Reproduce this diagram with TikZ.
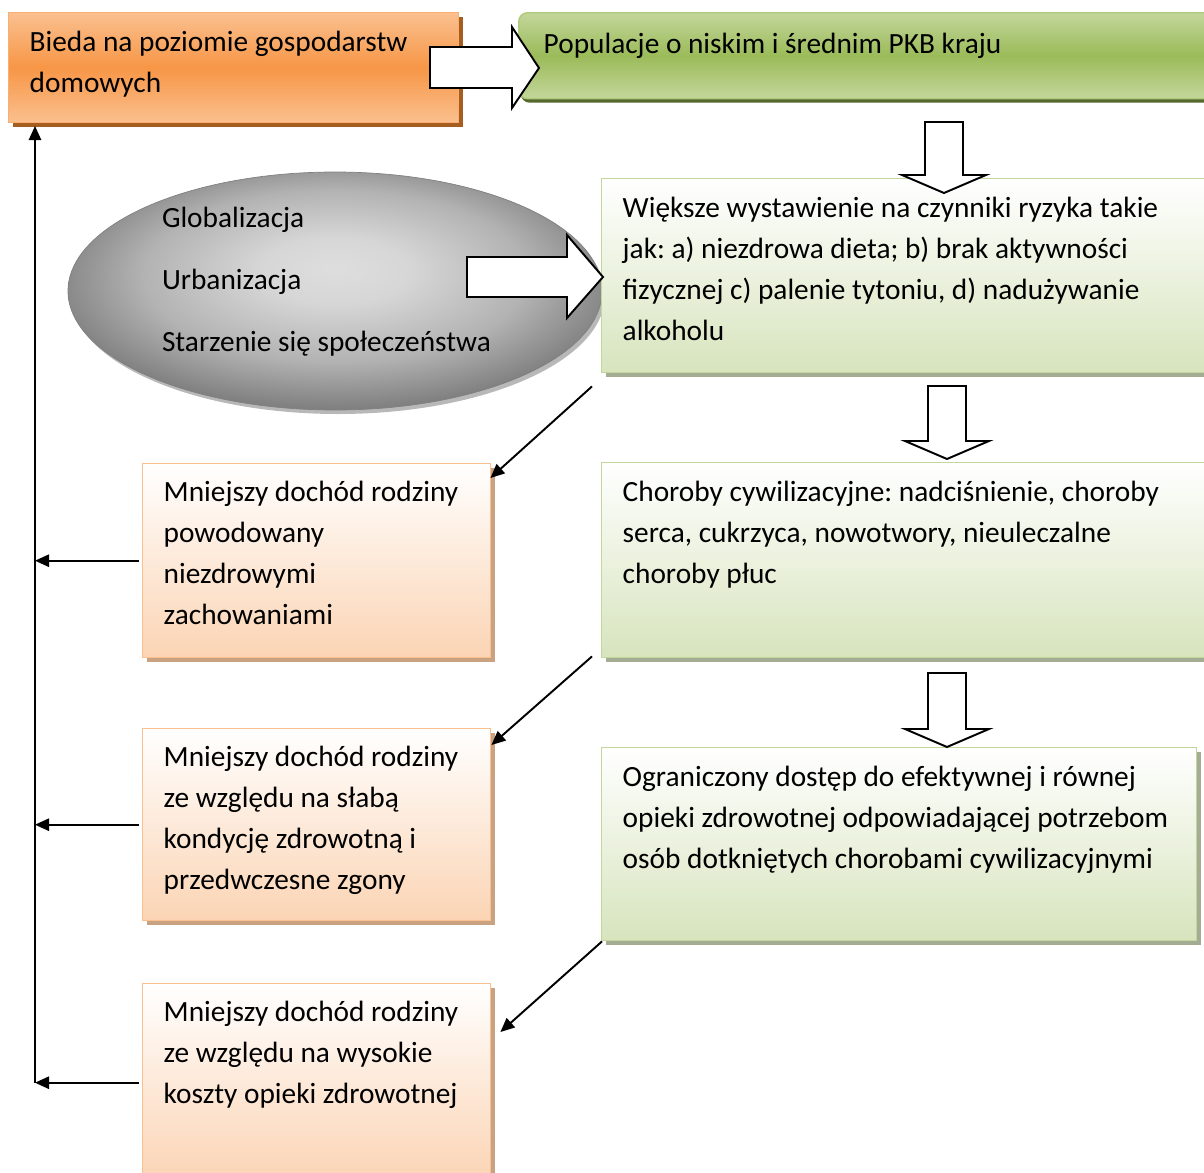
\documentclass[tikz,border=0pt]{standalone}
\usepackage{fontspec}
\setmainfont{Carlito}
\usetikzlibrary{shapes.geometric,shadows,arrows.meta}

\newdimen\px \px=0.02cm
\definecolor{orangemain}{HTML}{F79646}
\definecolor{orangelight}{HTML}{FAC08F}
\definecolor{orangeedge}{HTML}{F9AE72}
\definecolor{orangedark}{HTML}{A65D20}
\definecolor{greenmain}{HTML}{9BBB59}
\definecolor{greenlight}{HTML}{C3D69B}
\definecolor{greendark}{HTML}{56682E}
\definecolor{palegreen}{HTML}{D7E4BD}
\definecolor{palegreenedge}{HTML}{C3D69B}
\definecolor{palegreenshade}{HTML}{A4AD94}
\definecolor{paleorange}{HTML}{FBD4B4}
\definecolor{paleorangeedge}{HTML}{FAC090}
\definecolor{paleorangeshade}{HTML}{C9A282}
\pgfdeclareradialshading{trendshade}{\pgfpoint{0bp}{5bp}}{color(0bp)=(black!13);
  color(7bp)=(black!16); color(18bp)=(black!30); color(27bp)=(black!50); color(50bp)=(black!50)}

\begin{document}
\begin{tikzpicture}[x=0.02cm,y=-0.02cm,
  font=\fontsize{16.7}{23.3}\selectfont\frenchspacing,
  box/.style={rectangle, anchor=north west, align=flush left, inner xsep=21\px,
    inner ysep=0pt, text height=39\px, line width=0.8pt},
  topbox/.style={box, draw=orangeedge, top color=orangelight,
    bottom color=orangelight, middle color=orangemain,
    drop shadow={shadow xshift=4\px, shadow yshift=-4\px, fill=orangedark, opacity=1}},
  popbox/.style={box, draw=greenmain!80, rounded corners=9\px, top color=greenlight,
    bottom color=greenlight, middle color=greenmain, inner xsep=25\px, text height=41\px,
    drop shadow={shadow xshift=2\px, shadow yshift=-4\px, fill=greendark, opacity=1}},
  effectbox/.style={box, draw=palegreenedge, top color=white, bottom color=palegreen,
    drop shadow={shadow xshift=4\px, shadow yshift=-4\px, fill=palegreenshade, opacity=1}},
  incomebox/.style={box, draw=paleorangeedge, top color=white, bottom color=paleorange,
    text height=38\px,
    drop shadow={shadow xshift=4\px, shadow yshift=-4\px, fill=paleorangeshade, opacity=1}},
  hollow/.style={draw=black, fill=white, line width=1.1pt, line join=miter},
  link/.style={-{Triangle[length=8pt,width=7pt]}, line width=1.1pt}]

\useasboundingbox (0,0) rectangle (1204,1173);
\clip (0,0) rectangle (1204,1173);

%Top Row
\node[topbox, text width=408\px, text depth=71\px] (poverty) at (8,12)
  {Bieda na poziomie gospodarstw\\domowych};
\node[popbox, text width=670\px, text depth=45\px] (population) at (518,12)
  {Populacje o niskim i średnim PKB kraju};

%Trends Ellipse
\node[ellipse, draw=black!50, inner sep=0pt, minimum width=534\px, minimum height=238\px,
  shading=trendshade, font=\fontsize{16.7}{35.3}\selectfont, align=flush left,
  text width=346\px, text height=18\px, text depth=146\px,
  drop shadow={shadow xshift=3\px, shadow yshift=-4\px, fill=black!28, opacity=1}]
  (trends) at (335,291) {Globalizacja\\Urbanizacja\\Starzenie się społeczeństwa};

%Effects (right column)
\node[effectbox, text width=572\px, text depth=155\px] (risk) at (601,178)
  {Większe wystawienie na czynniki ryzyka takie\\jak: a) niezdrowa dieta; b) brak aktywności\\fizycznej c) palenie tytoniu, d) nadużywanie\\alkoholu};
\node[effectbox, text width=572\px, text depth=156\px] (disease) at (601,462)
  {Choroby cywilizacyjne: nadciśnienie, choroby\\serca, cukrzyca, nowotwory, nieuleczalne\\choroby płuc};
\node[effectbox, text width=553\px, text depth=154\px] (access) at (601,747)
  {Ograniczony dostęp do efektywnej i równej\\opieki zdrowotnej odpowiadającej potrzebom\\osób dotkniętych chorobami cywilizacyjnymi};

%Income (left column)
\node[incomebox, text width=306\px, text depth=156\px] (incA) at (142,463)
  {Mniejszy dochód rodziny\\powodowany\\niezdrowymi\\zachowaniami};
\node[incomebox, text width=306\px, text depth=154\px] (incB) at (142,728)
  {Mniejszy dochód rodziny\\ze względu na słabą\\kondycję zdrowotną i\\przedwczesne zgony};
\node[incomebox, text width=306\px, text depth=160\px] (incC) at (142,983)
  {Mniejszy dochód rodziny\\ze względu na wysokie\\koszty opieki zdrowotnej};

%Block Arrows
\draw[hollow] (430,47) -- (512,47) -- (512,27) -- (539,68) -- (512,108) -- (512,88) -- (430,88) -- cycle;
\draw[hollow] (467,257) -- (567,257) -- (567,235) -- (603,277) -- (567,318) -- (567,297) -- (467,297) -- cycle;
\foreach \ax/\ytop/\ybase in {944/122/175, 947/386/441, 947/673/729}
  \draw[hollow] (\ax-19,\ytop) -- (\ax+19,\ytop) -- (\ax+19,\ybase) -- (\ax+42,\ybase)
    -- (\ax,\ybase+18) -- (\ax-42,\ybase) -- (\ax-19,\ybase) -- cycle;

%Thin Arrows
\draw[link] ([shift={(-9,13)}]risk.south west) -- ([shift={(-1,15)}]incA.north east);
\draw[link] ([shift={(-9,-2)}]disease.south west) -- ([shift={(0,17)}]incB.north east);
\draw[link] ([shift={(1,0)}]access.south west) -- ([shift={(9,49)}]incC.north east);

%Feedback Line
\coordinate (spine) at (35,126);
\draw[link] ([xshift=-3\px]incA.west) -- (incA.west -| spine);
\draw[link] ([xshift=-3\px]incB.west) -- (incB.west -| spine);
\draw[link] ([xshift=-3\px]incC.west) -- (incC.west -| spine);
\draw[link] (incC.west -| spine) -- (spine);
\end{tikzpicture}
\end{document}
